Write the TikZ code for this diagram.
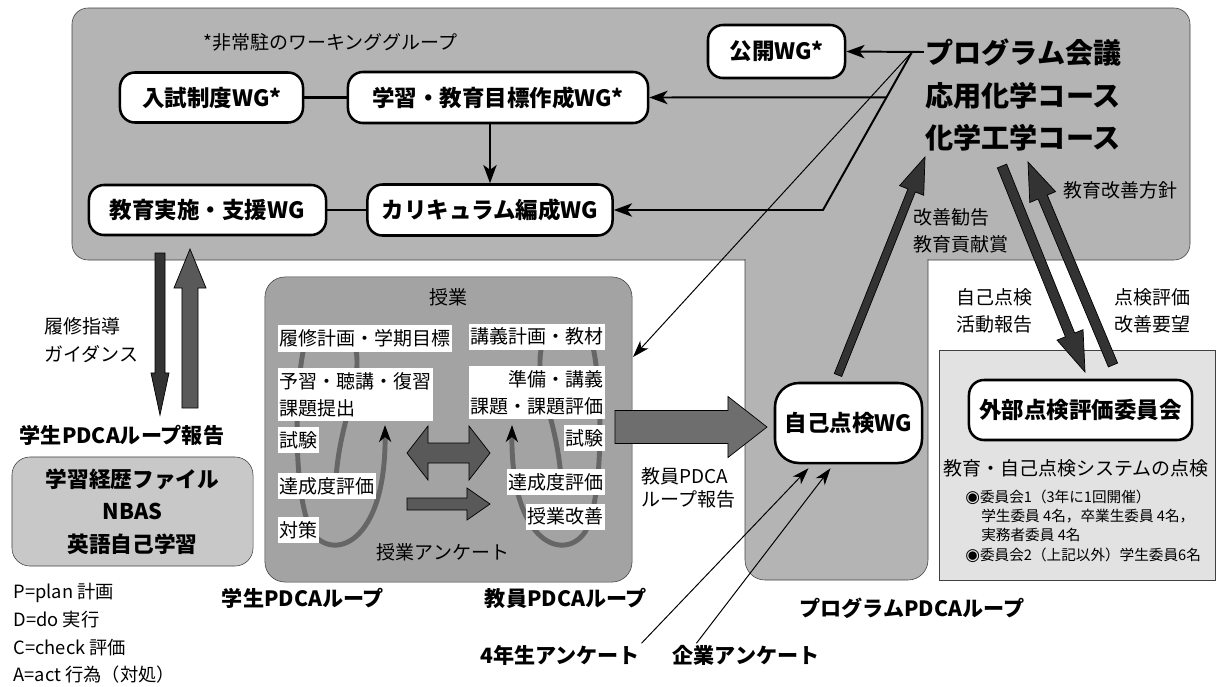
\documentclass[tikz,border=0pt]{standalone}
\usepackage{fontspec}
\setmainfont{Noto Sans CJK JP}
\newfontfamily\dejavu{DejaVu Sans}
\usepackage{tikz}
\usetikzlibrary{calc, arrows.meta, positioning}

\definecolor{wgbg}{HTML}{B4B4B4}
\definecolor{classbg}{HTML}{A3A3A3}
\definecolor{filebg}{HTML}{C8C8C8}
\definecolor{extbg}{HTML}{E2E2E2}
\definecolor{loopgray}{HTML}{666666}
\definecolor{darkarrow}{HTML}{333333}
\definecolor{midarrow}{HTML}{595959}
\definecolor{bigarrow}{HTML}{6E6E6E}
\definecolor{edgegray}{HTML}{404040}

\newcommand{\lblfont}{\fontsize{13.5}{19.5}\selectfont}
\newcommand{\legfont}{\fontsize{13}{19.7}\selectfont}
\newcommand{\memfont}{\fontsize{10.4}{13.7}\selectfont}
\newcommand{\repfont}{\fontsize{13.5}{16.5}\selectfont}
\newcommand{\wgfont}{\fontsize{16}{20}\selectfont\bfseries}
\newcommand{\titfont}{\fontsize{20}{29.9}\selectfont\bfseries}
\newcommand{\pdcafont}{\fontsize{15}{18}\selectfont\bfseries}
\newcommand{\filefont}{\fontsize{15.4}{23}\selectfont\bfseries}

% fat arrow: from, to, shaft half width, head half width, head length, fill
\newcommand{\fatarrow}[6]{%
  \coordinate (fh) at ($(#2)!#5!(#1)$);
  \draw[fill=#6, line width=0.5pt, line join=miter]
    ($(#1)!#3!90:(#2)$) -- ($(fh)!#3!-90:(#1)$) -- ($(fh)!#4!-90:(#1)$)
    -- (#2) -- ($(fh)!#4!90:(#1)$) -- ($(fh)!#3!90:(#1)$)
    -- ($(#1)!#3!-90:(#2)$) -- cycle;}

\begin{document}
\begin{tikzpicture}[x=0.025cm, y=-0.025cm,
    wgbox/.style={draw, line width=1.8pt, fill=white, rounded corners=0.375cm, font=\wgfont, inner sep=0pt},
    classbox/.style={draw=edgegray, fill=classbg, rounded corners=0.5cm, inner sep=0pt},
    tagbox/.style={fill=white, font=\lblfont, inner xsep=1pt, inner ysep=3pt},
    plaintext/.style={font=\lblfont, inner sep=1pt},
    boldtext/.style={font=\pdcafont, inner sep=1pt},
    looparc/.style={draw=loopgray, line width=3.5pt, -{Stealth[black, length=12pt, width=8.5pt, inset=3.5pt]}},
    linkarrow/.style={line width=1.4pt, -{Stealth[length=13pt, width=9.5pt, inset=3.5pt]}},
    thinarrow/.style={line width=0.7pt, -{Stealth[length=12pt, width=8pt, inset=3.5pt]}}]
    \useasboundingbox (0,0) rectangle (1219,686);

    % program area
    \draw[fill=wgbg, draw=edgegray, rounded corners=0.4cm] (72,8) rectangle (1190,260);
    \draw[fill=wgbg, draw=edgegray, rounded corners=0.5cm] (745,259) -- (745,580) -- (928,580) -- (928,259);
    \draw[fill=extbg, draw=edgegray] (939,350) rectangle (1215,580);

    \node[plaintext, anchor=west] (wg-note) at (202,42) {*非常駐のワーキンググループ};
    \node[wgbox, minimum width=4.575cm, minimum height=1.25cm] (nyushi) at (211.5,97.5) {入試制度WG*};
    \node[wgbox, minimum width=7.5cm, minimum height=1.275cm] (mokuhyo) at (498,97.5) {学習・教育目標作成WG*};
    \node[wgbox, minimum width=3.425cm, minimum height=1.325cm] (koukai) at (776.5,51.5) {公開WG*};
    \node[wgbox, minimum width=6.125cm, minimum height=1.275cm] (curri) at (490,210) {カリキュラム編成WG};
    \node[wgbox, minimum width=5.925cm, minimum height=1.25cm] (jisshi) at (207.5,210) {教育実施・支援WG};
    \node[font=\titfont, align=left, inner sep=1pt] (prog) at (1023.5,95) {プログラム会議\\応用化学コース\\化学工学コース};

    \draw[line width=2pt] (nyushi) -- (mokuhyo);
    \draw[line width=2pt] (jisshi) -- (curri);
    \draw[linkarrow] (mokuhyo.south -| curri.north) -- (curri.north);

    % class
    \node[classbox, minimum width=9.175cm, minimum height=7.625cm] (jugyo) at (448.5,429.5) {};
    \node[plaintext] (jugyo-title) at (448,297) {授業};
    \foreach \sx/\ox in {1/0, -1/897}
        \draw[looparc, shift={(\ox,0)}, xscale=\sx] (336,478) .. controls (340,420) and (362,385) .. (356,350)
            .. controls (350,322) and (308,322) .. (303,352)
            .. controls (294,400) and (294,500) .. (312,532)
            .. controls (332,562) and (386,545) .. (385,425);
    \node[tagbox, anchor=west] (plan1) at (278,338.5) {履修計画・学期目標};
    \node[tagbox, anchor=west, align=left] (do1) at (278,394.5) {予習・聴講・復習\\課題提出};
    \node[tagbox, anchor=west] (check1) at (278,440) {試験};
    \node[tagbox, anchor=west] (eval1) at (278,486) {達成度評価};
    \node[tagbox, anchor=west] (act1) at (278,530) {対策};
    \node[tagbox, anchor=east] (plan2) at (605,336.5) {講義計画・教材};
    \node[tagbox, anchor=east, align=right] (do2) at (605,392.5) {準備・講義\\課題・課題評価};
    \node[tagbox, anchor=east] (check2) at (605,438) {試験};
    \node[tagbox, anchor=east] (eval2) at (605,482) {達成度評価};
    \node[tagbox, anchor=east] (act2) at (605,516.5) {授業改善};
    \draw[fill=midarrow, line width=0.5pt] (407,453) -- (428,426) -- (428,443) -- (469,443) -- (469,426)
        -- (490,453) -- (469,480) -- (469,463) -- (428,463) -- (428,480) -- cycle;
    \coordinate (ank-a) at (407,504);
    \coordinate (ank-b) at (490,504);
    \fatarrow{ank-a}{ank-b}{0.15cm}{0.4cm}{0.575cm}{midarrow}
    \node[plaintext] (survey) at (443,552) {授業アンケート};

    % student side
    \node[draw=edgegray, fill=filebg, rounded corners=0.45cm, font=\filefont, align=center,
        minimum width=6.025cm, minimum height=2.725cm] (files) at (132.5,511.5) {学習経歴ファイル\\NBAS\\英語自己学習};
    \node[boldtext] (stu-rep) at (122,435) {学生PDCAループ報告};
    \node[plaintext, anchor=west, align=left] (guide) at (43,340) {履修指導\\ガイダンス};
    \coordinate (guide-a) at (160,253);
    \coordinate (guide-b) at (160,415);
    \fatarrow{guide-a}{guide-b}{0.125cm}{0.225cm}{1.05cm}{darkarrow}
    \coordinate (rep-a) at (190,408);
    \coordinate (rep-b) at (190,249);
    \fatarrow{rep-a}{rep-b}{0.2cm}{0.4cm}{0.975cm}{midarrow}
    \node[font=\legfont, anchor=west, align=left, inner sep=1pt] (legend) at (12,633.5) {P=plan 計画\\D=do 実行\\C=check 評価\\A=act 行為（対処）};

    % self check and external
    \node[wgbox, rounded corners=0.6cm, minimum width=3.675cm, minimum height=2cm] (jiko) at (848.5,423) {自己点検WG};
    \node[wgbox, minimum width=5.575cm, minimum height=1.5cm] (gaibu) at (1080.5,410) {外部点検評価委員会};
    \node[plaintext] (check-sys) at (1076,468) {教育・自己点検システムの点検};
    \node[font=\memfont, anchor=west, align=left, inner sep=0pt] (members) at (965,526)
        {{\dejavu\fontsize{12}{13.7}\selectfont ◉}委員会1（3年に1回開催）\\\hspace*{1.1em}学生委員 4名，卒業生委員 4名，\\\hspace*{1.1em}実務者委員 4名\\{\dejavu\fontsize{12}{13.7}\selectfont ◉}委員会2（上記以外）学生委員6名};
    \node[font=\repfont, anchor=west, align=left, inner sep=1pt] (tea-rep) at (640,488) {教員PDCA\\ループ報告};
    \node[plaintext, anchor=west, align=left] (advice) at (912,231) {改善勧告\\教育貢献賞};
    \node[plaintext, anchor=west] (policy) at (1062,190) {教育改善方針};
    \node[plaintext, anchor=west, align=left] (selfrep) at (955,311) {自己点検\\活動報告};
    \node[plaintext, anchor=west, align=left] (request) at (1113,311) {点検評価\\改善要望};

    \node[boldtext] (stu-loop) at (303,598) {学生PDCAループ};
    \node[boldtext] (tea-loop) at (566,598) {教員PDCAループ};
    \node[boldtext] (prog-loop) at (912,608) {プログラムPDCAループ};
    \node[boldtext] (ank4) at (560,655) {4年生アンケート};
    \node[boldtext] (kigyo) at (746,655) {企業アンケート};

    % connectors
    \coordinate (hub) at (912,52);
    \coordinate (kink) at (823,210);
    \coordinate (jugyo-in) at (633,357);
    \draw[linkarrow] (hub -| prog.west) -- (koukai.east);
    \draw[linkarrow] (hub) -- (kink) -- (curri.east);
    \draw[linkarrow] ($(hub)!0.2866!(kink)$) -- (mokuhyo.east);
    \draw[thinarrow] (hub) -- (jugyo-in);
    \draw[thinarrow] (ank4.north east) -- ($(jiko.south)+(-40,4)$);
    \draw[thinarrow] ($(kigyo.north west)!0.17!(kigyo.north east)$) -- ($(jiko.south)+(-18,4)$);

    \coordinate (tj-a) at (615,427);
    \coordinate (tj-b) at (767,427);
    \fatarrow{tj-a}{tj-b}{0.4125cm}{0.7625cm}{0.975cm}{bigarrow}
    \coordinate (jp-a) at (838,375);
    \coordinate (jp-b) at (925,157);
    \fatarrow{jp-a}{jp-b}{0.1cm}{0.325cm}{0.9cm}{darkarrow}
    \coordinate (pg-a) at (1002,166);
    \coordinate (pg-b) at (1085,372);
    \fatarrow{pg-a}{pg-b}{0.125cm}{0.35cm}{1cm}{darkarrow}
    \coordinate (gp-a) at (1113,365);
    \coordinate (gp-b) at (1028,162);
    \fatarrow{gp-a}{gp-b}{0.125cm}{0.35cm}{0.95cm}{darkarrow}
\end{tikzpicture}
\end{document}
